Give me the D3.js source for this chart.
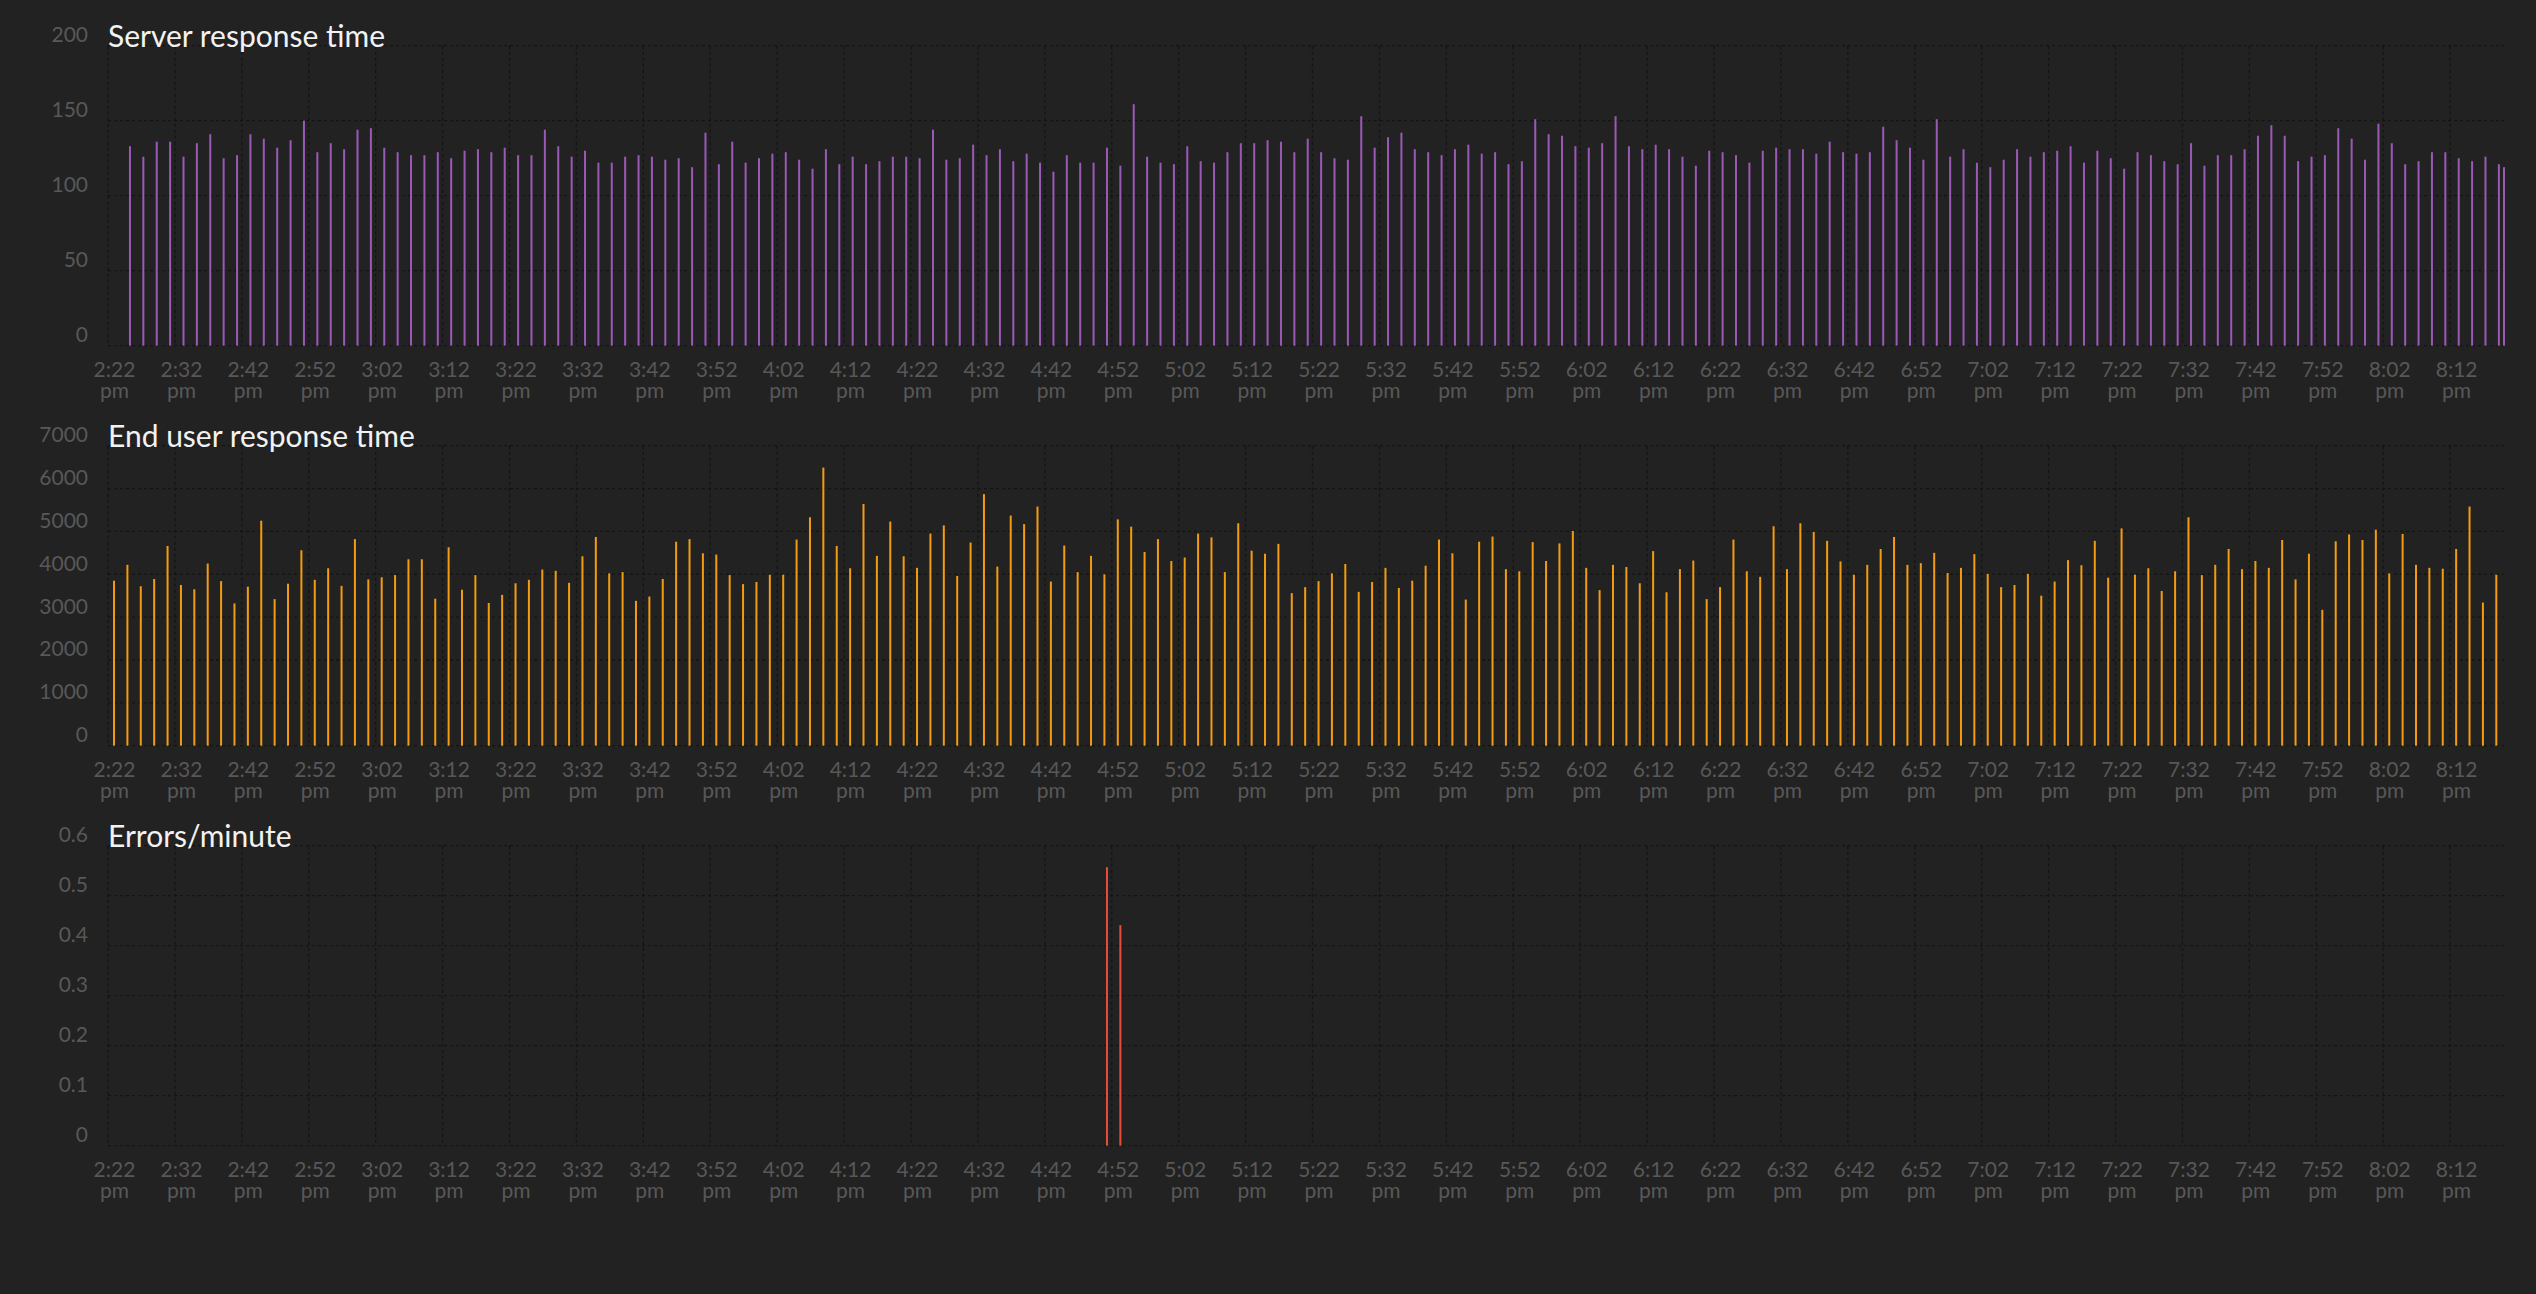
<!DOCTYPE html>
<html>
<head>
<meta charset="utf-8">
<script src="https://cdn.jsdelivr.net/npm/d3@7"></script>
<style>
  html, body { margin: 0; padding: 0; background: #222222; }
  svg { display: block; }
  text { font-family: Lato, "Open Sans", sans-serif; }
</style>
</head>
<body>
<svg id="chart" width="2536" height="1294"></svg>
<script>
// ---------------- data ----------------
const domainStart = "14:22:00";
const domainEnd = "20:20:03";
const tickTimes = ["14:22","14:32","14:42","14:52","15:02","15:12","15:22","15:32","15:42","15:52",
  "16:02","16:12","16:22","16:32","16:42","16:52","17:02","17:12","17:22","17:32","17:42","17:52",
  "18:02","18:12","18:22","18:32","18:42","18:52","19:02","19:12","19:22","19:32","19:42","19:52",
  "20:02","20:12"];

// Server response time: one bar every 2 minutes from 14:25:17, plus a final partial bar
const serverStart = "14:25:17";
const serverLastTime = "20:20:03";
const serverValues = [
  133,126,136,136,126,135,141,125,127,141,138,132,137,150,129,135,131,144,145,132,
  129,127,127,129,125,130,131,129,132,127,127,144,133,126,130,122,122,126,127,126,
  124,125,119,142,121,136,122,125,128,129,124,118,131,121,126,
  121,123,126,126,125,144,124,125,134,127,131,123,128,122,116,127,122,122,132,120,
  161,126,122,121,133,123,122,129,135,135,137,136,129,138,129,125,124,153,132,139,
  142,131,129,127,131,134,128,129,121,123,151,141,140,133,132,135,153,133,131,134,
  131,126,120,
  130,129,127,122,130,132,131,131,128,136,129,128,129,146,137,132,124,151,126,131,
  122,119,124,131,126,129,130,133,122,130,125,118,129,127,123,121,135,120,127,127,
  131,140,147,140,123,126,127,145,138,124,148,135,121,123,129,129,125,123,126,121,
  119
];

// End user response time: one bar every 2 minutes from 14:22:54
const endUserStart = "14:22:54";
const endUserValues = [
  3850,4220,3720,3890,4660,3750,3650,4250,3840,3320,3710,5250,3420,3780,4560,3870,
  4140,3730,4820,3880,3930,3980,4350,4350,3430,4630,3640,3980,3330,3520,3790,3870,
  4110,4080,3800,4420,4870,4020,4050,3380,3480,3890,4760,4820,4490,4460,3980,3770,
  3820,3990,3990,4810,5330,6490,4660,4140,
  5640,4430,5230,4420,4150,4950,5140,3960,4740,5870,4180,5370,5170,5580,3830,4670,
  4050,4430,4000,5280,5110,4520,4820,4310,4390,4950,4860,4050,5190,4550,4480,4710,
  3560,3700,3840,4020,4240,3590,3820,4150,3680,3850,4200,4810,4490,3410,4760,4880,
  4120,4070,4750,4310,4720,5010,4150,3630,4220,4170,3790,4540,3580,4120,
  4320,3420,3700,4810,4070,3940,5120,4120,5190,4990,4780,4300,3990,4220,4590,4870,
  4220,4260,4500,4030,4150,4470,4010,3700,3750,4010,3500,3830,4330,4210,4780,3920,
  5070,3990,4140,3610,4070,5330,3980,4220,4590,4120,4310,4150,4800,3880,4480,3170,
  4770,4930,4800,5040,4020,4940,4220,4150,4130,4590,5580,3340,3990
];

// Errors per minute: only non-zero bars
const errorTimes = ["16:51:17","16:53:17"];
const errorValues = [0.557, 0.441];

const panelTitles = ["Server response time", "End user response time", "Errors/minute"];
const yMax = [200, 7000, 0.6];
const yTicks = [[0,50,100,150,200],[0,1000,2000,3000,4000,5000,6000,7000],[0,0.1,0.2,0.3,0.4,0.5,0.6]];
const colors = ["#9b59b6", "#f39c12", "#e74c3c"];

// ---------------- build series ----------------
const parseT = d3.timeParse("%H:%M:%S");
const parseHM = d3.timeParse("%H:%M");
const STEP = 2 * 60 * 1000;

const serverData = serverValues.map((v, i) => {
  const isLast = i === serverValues.length - 1;
  const t = isLast ? parseT(serverLastTime) : new Date(+parseT(serverStart) + i * STEP);
  return { t, v };
});
const endUserData = endUserValues.map((v, i) => ({ t: new Date(+parseT(endUserStart) + i * STEP), v }));
const errorData = errorTimes.map((s, i) => ({ t: parseT(s), v: errorValues[i] }));
const allSeries = [serverData, endUserData, errorData];

// ---------------- layout ----------------
const svg = d3.select("#chart");
const left = 108, right = 2504;
const panelTop0 = 45.7, panelH = 300, panelGap = 400;

const x = d3.scaleTime()
  .domain([parseT(domainStart), parseT(domainEnd)])
  .range([left, right]);
const ticks = tickTimes.map(parseHM);
const fmtTime = d3.timeFormat("%-I:%M");
const fmtAmPm = d3.timeFormat("%p");

allSeries.forEach((data, p) => {
  const top = panelTop0 + p * panelGap;
  const bottom = top + panelH;
  const y = d3.scaleLinear().domain([0, yMax[p]]).range([bottom, top]);
  const g = svg.append("g");

  // horizontal grid
  g.append("g").selectAll("line").data(yTicks[p]).join("line")
    .attr("x1", left).attr("x2", right)
    .attr("y1", d => y(d)).attr("y2", d => y(d))
    .attr("stroke", "#141414").attr("stroke-width", 1.3)
    .attr("stroke-dasharray", "3,3");

  // vertical grid
  g.append("g").selectAll("line").data(ticks).join("line")
    .attr("x1", d => x(d)).attr("x2", d => x(d))
    .attr("y1", top).attr("y2", bottom)
    .attr("stroke", "#141414").attr("stroke-width", 1.3)
    .attr("stroke-dasharray", "3,3");

  // y labels
  g.append("g").selectAll("text").data(yTicks[p]).join("text")
    .attr("x", 88).attr("y", d => y(d) - 3.5)
    .attr("text-anchor", "end")
    .attr("fill", "#585858")
    .attr("font-size", 21)
    .text(d => d3.format("~g")(d));

  // x labels
  const xl = g.append("g").selectAll("text").data(ticks).join("text")
    .attr("text-anchor", "middle")
    .attr("fill", "#585858")
    .attr("font-size", 21);
  xl.append("tspan").attr("x", d => x(d) + 6.5).attr("y", bottom + 31).text(d => fmtTime(d));
  xl.append("tspan").attr("x", d => x(d) + 6.5).attr("y", bottom + 52).text(d => fmtAmPm(d).toLowerCase());

  // bars
  g.append("g").selectAll("rect").data(data).join("rect")
    .attr("x", d => x(d.t) - 1)
    .attr("width", 2)
    .attr("y", d => y(d.v))
    .attr("height", d => bottom - y(d.v))
    .attr("fill", colors[p]);

  // title
  g.append("text")
    .attr("x", left).attr("y", top + 1.5)
    .attr("fill", "#f2f2f2")
    .attr("font-size", 30)
    .text(panelTitles[p]);
});
</script>
</body>
</html>
